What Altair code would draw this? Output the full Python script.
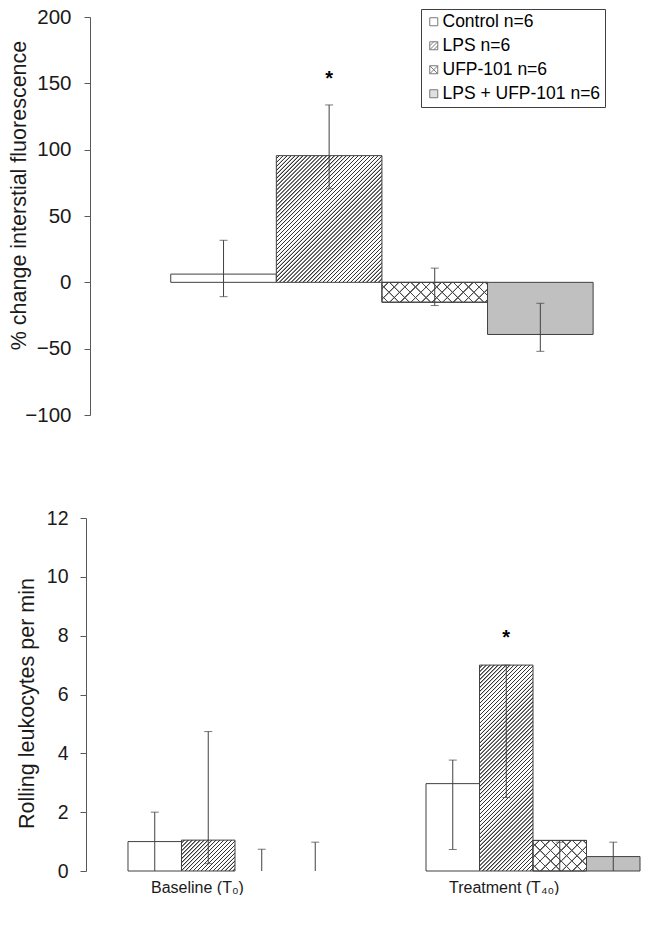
import math
import altair as alt
import pandas as pd

FONT = "Liberation Sans"
INK = "#404040"
AXIS = "#595959"
TEXT = "#1a1a1a"

# ---------------- data ----------------
series = ["Control", "LPS", "UFP-101", "LPS + UFP-101"]
n_per_group = [6, 6, 6, 6]
labels = [f"{s} n={n}" for s, n in zip(series, n_per_group)]
plain_fill = ["#ffffff", "#ffffff", "#ffffff", "#c0c0c0"]
hatch_kind = ["", "diag", "cross", ""]

# top panel: % change interstitial fluorescence
top_means = [6.2, 95.5, -15.0, -39.3]
top_low = [-10.8, 70.5, -17.5, -52.0]
top_high = [31.7, 133.7, 10.7, -15.8]
top_sig = ["", "*", "", ""]
top_ticks = [-100, -50, 0, 50, 100, 150, 200]

# bottom panel: rolling leukocytes per min
groups = ["Baseline (T₀)", "Treatment  (T₄₀)"]
baseline_means = [1.0, 1.05, 0.0, 0.0]
baseline_low = [0.0, 0.25, 0.0, 0.0]
baseline_high = [2.0, 4.74, 0.74, 0.98]
baseline_sig = ["", "", "", ""]
treatment_means = [2.97, 7.0, 1.04, 0.49]
treatment_low = [0.73, 2.5, 0.0, 0.0]
treatment_high = [3.77, 7.0, 0.98, 0.98]
treatment_sig = ["", "*", "", ""]
bottom_ticks = [0, 2, 4, 6, 8, 10, 12]

# ---------------- layout ----------------
TOP_W, TOP_H = 555, 398
BOT_W, BOT_H = 555, 353
TOP_DOM = [-100, 200]
BOT_DOM = [0, 12]
TOP_PO, TOP_ALIGN = 0.628, 0.639
BOT_PI, BOT_PO, BOT_ALIGN = 0.2819, 0.0721, 0.977

top_bw = TOP_W / (4 + 2 * TOP_PO)
bot_step = BOT_W / (2 - BOT_PI + 2 * BOT_PO)
bot_bw = bot_step * (1 - BOT_PI) / 4
top_ppu = TOP_H / (TOP_DOM[1] - TOP_DOM[0])
bot_ppu = BOT_H / (BOT_DOM[1] - BOT_DOM[0])


def hatch(w, h, period, core, ramp, ink, paper, flip=False):
    """Linear gradient drawing 45-degree stripes on a w x h (px) rectangle."""
    ext = (w + h) / math.sqrt(2)
    c = (w + h) / (w * w + h * h)
    if flip:
        x1, y1, x2, y2 = 0.0, 1.0, c * w, 1.0 - c * h
    else:
        x1, y1, x2, y2 = 0.0, 0.0, c * w, c * h
    stops = [{"offset": 0.0, "color": paper}]
    last = 0.0
    k = 0
    while True:
        s = period / 2 + k * period
        pts = [(s, paper), (s + ramp, ink), (s + ramp + core, ink), (s + 2 * ramp + core, paper)]
        if (s + 2 * ramp + core) / ext >= 1:
            break
        for p, col in pts:
            o = max(round(p / ext, 5), last)
            stops.append({"offset": o, "color": col})
            last = o
        k += 1
    stops.append({"offset": 1.0, "color": paper})
    return {"gradient": "linear", "x1": round(x1, 5), "y1": round(y1, 5),
            "x2": round(x2, 5), "y2": round(y2, 5), "stops": stops}


def bar_fills(i, w, h):
    kind = hatch_kind[i]
    if kind == "diag":
        return [hatch(w, h, 2.8, 0.5, 0.4, "#333333", "#ffffff")]
    if kind == "cross":
        return [hatch(w, h, 7.5, 0.6, 0.45, "#4a4a4a", "#ffffff"),
                hatch(w, h, 7.5, 0.6, 0.45, "#4a4a4a", "rgba(255,255,255,0)", flip=True)]
    return [plain_fill[i]]


box = "M-1,-1L1,-1L1,1L-1,1Z"
legend_shapes = [box,
                 box + "M-1,0L0,-1M-1,1L1,-1M0,1L1,0",
                 box + "M-1,-1L1,1M-1,1L1,-1",
                 box]

# ---------------- top chart ----------------
top_df = pd.DataFrame({"rid": range(4), "label": labels, "mean": top_means,
                       "low": top_low, "high": top_high, "sig": top_sig})

top_axis = alt.Axis(values=top_ticks, grid=False, domainColor=AXIS, tickColor=AXIS,
                    tickSize=6, labelFontSize=20.5, labelColor=TEXT, labelPadding=13,
                    labelFont=FONT, titleFont=FONT, titleFontSize=21.5,
                    titleFontWeight="normal", titleColor=TEXT, titleX=-71, titleY=178,
                    titleBaseline="middle", titleAlign="center", offset=-4)
top_title = "% change interstial fluorescence"


def ty(field):
    return alt.Y(f"{field}:Q", scale=alt.Scale(domain=TOP_DOM, nice=False, zero=False),
                 axis=top_axis, title=top_title)


tx = alt.X("label:N", scale=alt.Scale(domain=labels, paddingInner=0, paddingOuter=TOP_PO,
                                       align=TOP_ALIGN), axis=None)

tbase = alt.Chart(top_df)
top_layers = []
for i in range(4):
    if top_means[i] == 0:
        continue
    h = abs(top_means[i]) * top_ppu
    for f in bar_fills(i, top_bw, h):
        top_layers.append(
            tbase.mark_bar(fill=f, stroke=INK, strokeWidth=1).encode(x=tx, y=ty("mean"))
            .transform_filter(f"datum.rid === {i}")
        )

leg = alt.Legend(title=None, orient="none", legendX=335, legendY=-8, direction="vertical",
                 symbolSize=64, symbolStrokeColor=INK, symbolStrokeWidth=1,
                 labelFont=FONT, labelFontSize=17.5, labelColor="#000000", labelOffset=0,
                 labelLimit=300, strokeColor=INK, fillColor="#ffffff", padding=4,
                 rowPadding=5, cornerRadius=0)
top_layers.append(
    tbase.mark_point(filled=True, strokeWidth=1).encode(
        y=ty("mean"),
        fill=alt.Fill("label:N", scale=alt.Scale(domain=labels, range=plain_fill), legend=leg),
        stroke=alt.Stroke("label:N", scale=alt.Scale(domain=labels, range=[INK] * 4), legend=leg),
        shape=alt.Shape("label:N", scale=alt.Scale(domain=labels, range=legend_shapes), legend=leg),
    ).transform_filter("false")
)
top_layers += [
    tbase.mark_rule(color=INK, strokeWidth=1).encode(x=tx, y=ty("low"), y2="high"),
    tbase.mark_tick(color=INK, size=8, thickness=1, orient="horizontal").encode(x=tx, y=ty("high")),
    tbase.mark_tick(color=INK, size=8, thickness=1, orient="horizontal").encode(x=tx, y=ty("low")),
    tbase.mark_text(font=FONT, fontSize=20, fontWeight="bold", baseline="alphabetic",
                    dy=-20, color="#000000").encode(x=tx, y=ty("high"), text="sig:N")
    .transform_filter("datum.sig != ''"),
]
top_chart = alt.layer(*top_layers).properties(width=TOP_W, height=TOP_H)

# ---------------- bottom chart ----------------
rows = []
rid = 0
for gname, means, lows, highs, sigs in [
    (groups[0], baseline_means, baseline_low, baseline_high, baseline_sig),
    (groups[1], treatment_means, treatment_low, treatment_high, treatment_sig),
]:
    for j in range(4):
        rows.append({"rid": rid, "sidx": j, "group": gname, "label": labels[j], "mean": means[j],
                     "low": lows[j], "high": highs[j], "sig": sigs[j]})
        rid += 1
bot_df = pd.DataFrame(rows)

bot_axis = alt.Axis(values=bottom_ticks, grid=False, domainColor=AXIS, tickColor=AXIS,
                    tickSize=6, labelFontSize=19.5, labelColor=TEXT, labelPadding=12,
                    labelFont=FONT, titleFont=FONT, titleFontSize=21.5,
                    titleFontWeight="normal", titleColor=TEXT, titleX=-59, titleY=185,
                    titleBaseline="middle", titleAlign="center")
bot_title = "Rolling leukocytes per min"


def by(field):
    return alt.Y(f"{field}:Q", scale=alt.Scale(domain=BOT_DOM, nice=False),
                 axis=bot_axis, title=bot_title)


bx = alt.X("group:N",
           scale=alt.Scale(domain=groups, paddingInner=BOT_PI, paddingOuter=BOT_PO, align=BOT_ALIGN),
           axis=alt.Axis(title=None, domain=False, ticks=False, labelAngle=0, labelFont=FONT,
                         labelFontSize=16, labelColor=TEXT, labelAlign="left", labelOffset=-84,
                         labelPadding=8))
bxo = alt.XOffset("label:N", scale=alt.Scale(domain=labels, paddingInner=0, paddingOuter=0))

bbase = alt.Chart(bot_df)
bot_layers = []
for r in rows:
    if r["mean"] == 0:
        continue
    h = abs(r["mean"]) * bot_ppu
    for f in bar_fills(r["sidx"], bot_bw, h):
        bot_layers.append(
            bbase.mark_bar(fill=f, stroke=INK, strokeWidth=1).encode(x=bx, xOffset=bxo, y=by("mean"))
            .transform_filter(f"datum.rid === {r['rid']}")
        )
bot_layers += [
    bbase.mark_rule(color=INK, strokeWidth=1).encode(x=bx, xOffset=bxo, y=by("low"), y2="high"),
    bbase.mark_tick(color=INK, size=8, thickness=1, orient="horizontal").encode(
        x=bx, xOffset=bxo, y=by("high")),
    bbase.mark_tick(color=INK, size=8, thickness=1, orient="horizontal").encode(
        x=bx, xOffset=bxo, y=by("low")).transform_filter("datum.low > 0"),
    bbase.mark_text(font=FONT, fontSize=20, fontWeight="bold", baseline="alphabetic",
                    dy=-21, color="#000000").encode(x=bx, xOffset=bxo, y=by("high"), text="sig:N")
    .transform_filter("datum.sig != ''"),
]
bottom_chart = alt.layer(*bot_layers).properties(width=BOT_W, height=BOT_H)

chart = (
    alt.vconcat(top_chart, bottom_chart, spacing=82)
    .resolve_legend(fill="independent", shape="independent", stroke="independent")
    .properties(padding={"left": 0, "top": -1, "right": 0, "bottom": 0})
    .configure(font=FONT)
    .configure_view(strokeWidth=0)
)

chart.save("out.html", embed_options={"renderer": "svg", "actions": False})
